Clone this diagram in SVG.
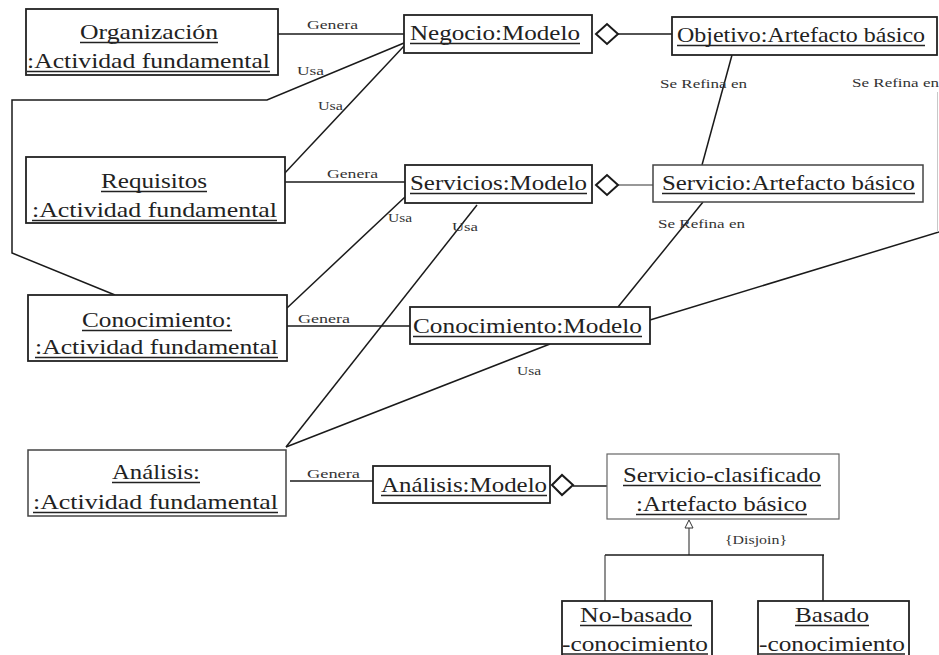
<svg xmlns="http://www.w3.org/2000/svg" width="939" height="655" viewBox="0 0 939 655">
  <style>
    .box { fill: #ffffff; stroke: #222; stroke-width: 1.8; }
    .box-mid { fill: #ffffff; stroke: #444; stroke-width: 1.5; }
    .box-light { fill: #ffffff; stroke: #666; stroke-width: 1.2; }
    text.nm { font-family: "Times New Roman", Times, "Liberation Serif", serif; font-size: 21px; fill: #222; }
    .ul { stroke: #222; stroke-width: 1.3; }
    text.lbl { font-family: "Times New Roman", Times, "Liberation Serif", serif; font-size: 13px; fill: #333; }
    .conn { fill: none; stroke: #1a1a1a; stroke-width: 1.5; }
    .thin { fill: none; stroke: #333; stroke-width: 1.1; }
    .diamond { fill: #ffffff; stroke: #1a1a1a; stroke-width: 2; }
  </style>

  <rect width="939" height="655" fill="#ffffff"/>

  <!-- connectors -->
  <g id="connectors">
    <!-- Genera associations -->
    <line class="conn" x1="278" y1="34" x2="404" y2="34"/>
    <line class="conn" x1="285" y1="182" x2="405" y2="182"/>
    <line class="conn" x1="287" y1="326" x2="410" y2="326"/>
    <line class="conn" x1="290" y1="481" x2="373" y2="481"/>

    <!-- Usa associations -->
    <polyline class="conn" points="404,43 267,100 12,100 12,253 115,295"/>
    <line class="conn" x1="404" y1="46" x2="283" y2="175"/>
    <line class="conn" x1="405" y1="197" x2="287" y2="308"/>
    <line class="conn" x1="477" y1="205" x2="286" y2="447"/>
    <line class="conn" x1="550" y1="344" x2="286" y2="447"/>

    <!-- Se Refina en -->
    <line class="conn" x1="732" y1="55" x2="702" y2="165"/>
    <line class="conn" x1="703" y1="202" x2="618" y2="307"/>
    <line class="conn" x1="650" y1="320" x2="939" y2="232"/>
    <line x1="937.5" y1="92" x2="937.5" y2="232" stroke="#c8c8c8" stroke-width="1"/>

    <!-- aggregations -->
    <line class="conn" x1="618" y1="34" x2="672" y2="34"/>
    <polygon class="diamond" points="596,34 607,24 618,34 607,44"/>
    <line class="thin" x1="618" y1="185" x2="653" y2="185"/>
    <polygon class="diamond" points="596,185 607,175 618,185 607,195"/>
    <line class="conn" x1="573" y1="486" x2="607" y2="486"/>
    <polygon class="diamond" points="552,485 562,475 573,485 562,495"/>

    <!-- generalization -->
    <polygon points="689,520 685,528 693,528" fill="#ffffff" stroke="#333" stroke-width="1"/>
    <line class="thin" x1="689" y1="528" x2="689" y2="555"/>
    <line class="conn" x1="605" y1="555" x2="824" y2="555"/>
    <line class="thin" x1="605" y1="555" x2="605" y2="601"/>
    <line class="conn" x1="823" y1="555" x2="823" y2="601"/>

    <!-- connector labels -->
    <text class="lbl" x="307" y="29" textLength="51" lengthAdjust="spacingAndGlyphs">Genera</text>
    <text class="lbl" x="327" y="178" textLength="51" lengthAdjust="spacingAndGlyphs">Genera</text>
    <text class="lbl" x="298" y="323" textLength="52" lengthAdjust="spacingAndGlyphs">Genera</text>
    <text class="lbl" x="307" y="478" textLength="53" lengthAdjust="spacingAndGlyphs">Genera</text>
    <text class="lbl" x="297" y="75" textLength="27" lengthAdjust="spacingAndGlyphs">Usa</text>
    <text class="lbl" x="318" y="110" textLength="25" lengthAdjust="spacingAndGlyphs">Usa</text>
    <text class="lbl" x="388" y="222" textLength="24" lengthAdjust="spacingAndGlyphs">Usa</text>
    <text class="lbl" x="452" y="231" textLength="26" lengthAdjust="spacingAndGlyphs">Usa</text>
    <text class="lbl" x="517" y="375" textLength="24" lengthAdjust="spacingAndGlyphs">Usa</text>
    <text class="lbl" x="660" y="88" textLength="87" lengthAdjust="spacingAndGlyphs">Se Refina en</text>
    <text class="lbl" x="852" y="87" textLength="87" lengthAdjust="spacingAndGlyphs">Se Refina en</text>
    <text class="lbl" x="658" y="228" textLength="87" lengthAdjust="spacingAndGlyphs">Se Refina en</text>
    <text class="lbl" x="725" y="544" textLength="62" lengthAdjust="spacingAndGlyphs">{Disjoin}</text>
  </g>

  <!-- activity nodes -->
  <g id="organizacion">
    <rect class="box" x="26" y="9" width="252" height="66"/>
    <text class="nm" x="80" y="39" textLength="138" lengthAdjust="spacingAndGlyphs">Organización</text>
    <line class="ul" x1="80" y1="42.5" x2="218" y2="42.5"/>
    <text class="nm" x="27" y="68" textLength="243" lengthAdjust="spacingAndGlyphs">:Actividad fundamental</text>
    <line class="ul" x1="27" y1="71.5" x2="270" y2="71.5"/>
  </g>

  <g id="requisitos">
    <rect class="box" x="26" y="157" width="259" height="66"/>
    <text class="nm" x="101" y="188" textLength="106" lengthAdjust="spacingAndGlyphs">Requisitos</text>
    <line class="ul" x1="101" y1="191.5" x2="207" y2="191.5"/>
    <text class="nm" x="32" y="217" textLength="245" lengthAdjust="spacingAndGlyphs">:Actividad fundamental</text>
    <line class="ul" x1="32" y1="220.5" x2="277" y2="220.5"/>
  </g>

  <g id="conocimiento">
    <rect class="box" x="28" y="295" width="259" height="66"/>
    <text class="nm" x="82" y="327" textLength="150" lengthAdjust="spacingAndGlyphs">Conocimiento:</text>
    <line class="ul" x1="82" y1="330.5" x2="232" y2="330.5"/>
    <text class="nm" x="35" y="354" textLength="243" lengthAdjust="spacingAndGlyphs">:Actividad fundamental</text>
    <line class="ul" x1="35" y1="357.5" x2="278" y2="357.5"/>
  </g>

  <g id="analisis">
    <rect class="box-mid" x="28" y="450" width="258" height="66"/>
    <text class="nm" x="112" y="479" textLength="88" lengthAdjust="spacingAndGlyphs">Análisis:</text>
    <line class="ul" x1="112" y1="482.5" x2="200" y2="482.5"/>
    <text class="nm" x="33" y="509" textLength="245" lengthAdjust="spacingAndGlyphs">:Actividad fundamental</text>
    <line class="ul" x1="33" y1="512.5" x2="278" y2="512.5"/>
  </g>

  <!-- model nodes -->
  <g id="negocio-modelo">
    <rect class="box" x="404" y="15" width="188" height="38"/>
    <text class="nm" x="410" y="40" textLength="170" lengthAdjust="spacingAndGlyphs">Negocio:Modelo</text>
    <line class="ul" x1="410" y1="43.5" x2="580" y2="43.5"/>
  </g>

  <g id="servicios-modelo">
    <rect class="box" x="405" y="165" width="187" height="38"/>
    <text class="nm" x="410" y="190" textLength="177" lengthAdjust="spacingAndGlyphs">Servicios:Modelo</text>
    <line class="ul" x1="410" y1="193.5" x2="587" y2="193.5"/>
  </g>

  <g id="conocimiento-modelo">
    <rect class="box" x="410" y="307" width="240" height="37"/>
    <text class="nm" x="413" y="333" textLength="229" lengthAdjust="spacingAndGlyphs">Conocimiento:Modelo</text>
    <line class="ul" x1="413" y1="336.5" x2="642" y2="336.5"/>
  </g>

  <g id="analisis-modelo">
    <rect class="box" x="373" y="466" width="177" height="37"/>
    <text class="nm" x="381" y="492" textLength="166" lengthAdjust="spacingAndGlyphs">Análisis:Modelo</text>
    <line class="ul" x1="381" y1="495.5" x2="547" y2="495.5"/>
  </g>

  <!-- artefact nodes -->
  <g id="objetivo-artefacto">
    <rect class="box" x="672" y="17" width="265" height="38"/>
    <text class="nm" x="677" y="42" textLength="248" lengthAdjust="spacingAndGlyphs">Objetivo:Artefacto básico</text>
    <line class="ul" x1="677" y1="45.5" x2="925" y2="45.5"/>
  </g>

  <g id="servicio-artefacto">
    <rect class="box-mid" x="653" y="165" width="270" height="37"/>
    <text class="nm" x="662" y="190" textLength="253" lengthAdjust="spacingAndGlyphs">Servicio:Artefacto básico</text>
    <line class="ul" x1="662" y1="193.5" x2="915" y2="193.5"/>
  </g>

  <g id="servicio-clasificado">
    <rect class="box-light" x="607" y="454" width="232" height="65"/>
    <text class="nm" x="623" y="482" textLength="198" lengthAdjust="spacingAndGlyphs">Servicio-clasificado</text>
    <line class="ul" x1="623" y1="485.5" x2="821" y2="485.5"/>
    <text class="nm" x="636" y="511" textLength="171" lengthAdjust="spacingAndGlyphs">:Artefacto básico</text>
    <line class="ul" x1="636" y1="514.5" x2="807" y2="514.5"/>
  </g>

  <g id="no-basado">
    <rect class="box" x="562" y="601" width="150" height="62"/>
    <text class="nm" x="580" y="622" textLength="112" lengthAdjust="spacingAndGlyphs">No-basado</text>
    <line class="ul" x1="580" y1="625.5" x2="692" y2="625.5"/>
    <text class="nm" x="562" y="651" textLength="146" lengthAdjust="spacingAndGlyphs">-conocimiento</text>
    <line class="ul" x1="562" y1="654" x2="708" y2="654"/>
  </g>

  <g id="basado">
    <rect class="box" x="758" y="601" width="151" height="62"/>
    <text class="nm" x="795" y="622" textLength="74" lengthAdjust="spacingAndGlyphs">Basado</text>
    <line class="ul" x1="795" y1="625.5" x2="869" y2="625.5"/>
    <text class="nm" x="759" y="651" textLength="146" lengthAdjust="spacingAndGlyphs">-conocimiento</text>
    <line class="ul" x1="759" y1="654" x2="905" y2="654"/>
  </g>
</svg>
